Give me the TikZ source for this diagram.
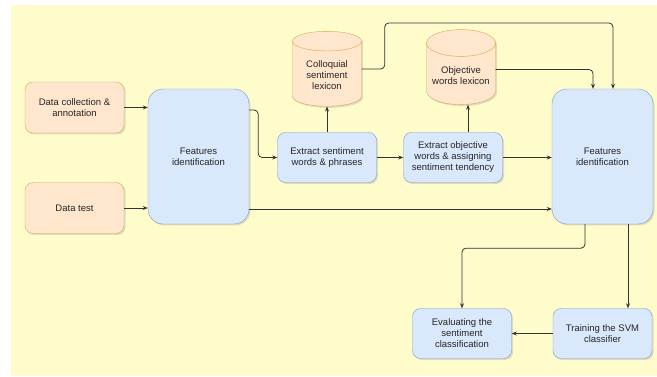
\documentclass[tikz,border=0pt]{standalone}
\usepackage{fontspec}
\setmainfont{Liberation Sans}
\usetikzlibrary{shapes.geometric,shadows,arrows.meta}

\definecolor{bgyellow}{HTML}{FFFCCC}
\definecolor{orfill}{HTML}{FFE6CC}
\definecolor{ordraw}{HTML}{D7A94F}
\definecolor{blfill}{HTML}{DAE8FC}
\definecolor{bldraw}{HTML}{7C9BC6}
\definecolor{linecol}{HTML}{333333}

\tikzset{
  boxshadow/.style={drop shadow={opacity=0.25,shadow xshift=1.5pt,shadow yshift=-1.5pt}},
  txt/.style={font=\fontsize{9.5}{11}\selectfont, align=center, text=black!85},
  inbox/.style={txt, rectangle, rounded corners=8pt, fill=orfill, draw=ordraw,
    boxshadow, minimum width=99pt, minimum height=51pt},
  stepbox/.style={txt, rectangle, rounded corners=8pt, fill=blfill, draw=bldraw,
    boxshadow, minimum width=99pt, minimum height=50pt},
  featbox/.style={stepbox, rounded corners=15pt, minimum width=101pt, minimum height=135pt},
  lexicon/.style={txt, cylinder, shape border rotate=90, aspect=0.45, fill=orfill,
    draw=ordraw, boxshadow, minimum width=69pt, minimum height=75pt, inner sep=1pt},
  conn/.style={draw=linecol, line width=0.8pt, rounded corners=4pt, -{Stealth[length=5pt,width=4pt]}}
}

\begin{document}
\begin{tikzpicture}[x=1pt,y=-1pt]
    % Background:
    \useasboundingbox (0,0) rectangle (657,377);
    \fill[bgyellow] (11,5) rectangle (657,376);
    % Nodes:
    \node[inbox] (dca) at (74.5,107.5) {Data collection \&\\annotation};
    \node[inbox] (dt) at (74.5,208) {Data test};
    \node[featbox] (fil) at (198.5,156.5) {Features\\identification};
    \node[stepbox] (ese) at (327,157.5) {Extract sentiment\\words \& phrases};
    \node[lexicon] (col) at (327,75) {Colloquial\\sentiment\\lexicon};
    \node[stepbox] (eow) at (453,157.5) {Extract objective\\words \& assigning\\sentiment tendency};
    \node[lexicon] (owl) at (461,75.5) {Objective\\words lexicon};
    \node[featbox] (fir) at (602.5,156.5) {Features\\identification};
    \node[stepbox] (svm) at (602.5,333.5) {Training the SVM\\classifier};
    \node[stepbox] (eva) at (462,333.5) {Evaluating the\\sentiment\\classification};
    % Connectors:
    \draw[conn] (dca.east) -- (fil.west |- dca.east);
    \draw[conn] (dt.east) -- (fil.west |- dt.east);
    \draw[conn] ([yshift=46.5pt]fil.east) -- ++(9,0) |- (ese.west);
    \draw[conn] (ese.north) -- (col.south);
    \draw[conn] (ese) -- (eow);
    \draw[conn] (eow.north -| 468,0) -- (owl.south -| 468,0);
    \draw[conn] (eow.east) -- (fir.west |- eow.east);
    \draw[conn] ([yshift=6pt]col.east) -- ++(23,0) |- ([xshift=10.5pt]fir.north |- 0,23)
      -- ([xshift=10.5pt]fir.north);
    \draw[conn] ([yshift=6pt]owl.east) -| ([xshift=-9.5pt]fir.north);
    \draw[conn] ([yshift=-52.5pt]fil.east) -- ([yshift=-52.5pt]fir.west);
    \draw[conn] ([xshift=-17.5pt]fir.south) -- ++(0,24) -| (eva.north);
    \draw[conn] ([xshift=25.5pt]fir.south) -- ([xshift=25.5pt]svm.north);
    \draw[conn] (svm) -- (eva);
\end{tikzpicture}
\end{document}
